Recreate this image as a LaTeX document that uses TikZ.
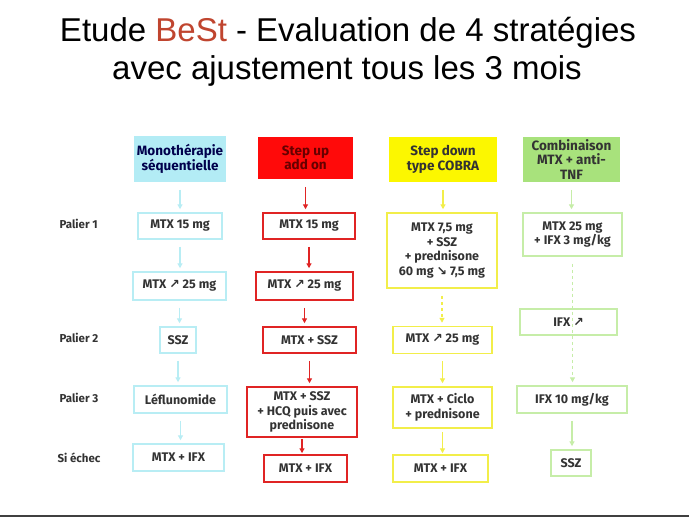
\documentclass[tikz,border=0pt]{standalone}
\usepackage{fontspec}
\setmainfont{Liberation Sans}
\newfontfamily\boxfont{Fira Sans}
\newfontfamily\arrfont{DejaVu Sans}
\usetikzlibrary{arrows.meta}
\usetikzlibrary{positioning}
\newcommand\upar{{\arrfont ↗}}
\newcommand\downar{{\arrfont ↘}}
\definecolor{cyanline}{HTML}{B8EDF4}
\definecolor{cyanfill}{HTML}{B3ECF5}
\definecolor{redline}{HTML}{E02424}
\definecolor{redfill}{HTML}{FF0A0A}
\definecolor{yelline}{HTML}{F2EE4A}
\definecolor{yelfill}{HTML}{FCF700}
\definecolor{grnline}{HTML}{C6EDA8}
\definecolor{grnfill}{HTML}{A8E27C}
\definecolor{bestred}{HTML}{C0452F}

\begin{document}
\begin{tikzpicture}[x=1pt,y=-1pt,
  box/.style={draw,line width=1.5pt,align=center,inner sep=1pt,text=black!80,font=\boxfont\bfseries\fontsize{12.5}{14.5}\selectfont},
  head/.style={box,draw=none,font=\boxfont\bfseries\fontsize{13.5}{14.5}\selectfont},
  cbox/.style={box,draw=cyanline},
  rbox/.style={box,draw=redline},
  ybox/.style={box,draw=yelline},
  gbox/.style={box,draw=grnline},
  lab/.style={anchor=west,text=black!80,font=\boxfont\bfseries\fontsize{11.5}{14}\selectfont},
  arr/.style={-{Triangle[length=5pt,width=5pt]},line width=1.2pt,shorten <=7pt,shorten >=3pt},
  carr/.style={arr,cyanline},
  rarr/.style={arr,redline},
  yarr/.style={arr,yelline},
  garr/.style={arr,grnline},
  ttl/.style={anchor=base,font=\fontsize{33}{38}\selectfont}]
\fill[white] (0,0) rectangle (689,517);
\useasboundingbox (0,0) rectangle (689,517);

\node[ttl] (title1) at (348,41) {Etude \textcolor{bestred}{BeSt} - Evaluation de 4 stratégies};
\node[ttl] (title2) at (347,79) {avec ajustement tous les 3 mois};

\node[head,fill=cyanfill,text=black!70!blue,minimum width=92,minimum height=46] (ch) at (180,159) {Monothérapie\\séquentielle};
\node[head,fill=redfill,text=black!60!red,minimum width=95,minimum height=42] (rh) at (305.5,158) {Step up\\add on};
\node[head,fill=yelfill,minimum width=108,minimum height=45] (yh) at (443,159.5) {Step down\\type COBRA};
\node[head,fill=grnfill,minimum width=97,minimum height=45] (gh) at (571.5,159.5) {Combinaison\\MTX + anti-\\TNF};

\node[lab] (p1) at (56,224) {Palier 1};
\node[lab] (p2) at (56,338) {Palier 2};
\node[lab] (p3) at (56,398) {Palier 3};
\node[lab] (p4) at (54,458) {Si échec};

\node[cbox,minimum width=84,minimum height=26] (c1) at (180,226) {MTX 15 mg};
\node[cbox,minimum width=93,minimum height=28] (c2) at (179.5,286) {MTX \upar{} 25 mg};
\node[cbox,minimum width=36,minimum height=26] (c3) at (178,340) {SSZ};
\node[cbox,minimum width=93,minimum height=27] (c4) at (180.5,399.5) {Léflunomide};
\node[cbox,minimum width=91,minimum height=27] (c5) at (178.5,457.5) {MTX + IFX};

\node[rbox,minimum width=92,minimum height=26] (r1) at (309,226) {MTX 15 mg};
\node[rbox,minimum width=97,minimum height=28] (r2) at (304.5,286) {MTX \upar{} 25 mg};
\node[rbox,minimum width=93,minimum height=26] (r3) at (309.5,340) {MTX + SSZ};
\node[rbox,minimum width=110,minimum height=50] (r4) at (302,412) {MTX + SSZ\\+ HCQ puis avec\\prednisone};
\node[rbox,minimum width=83,minimum height=27] (r5) at (305.5,468.5) {MTX + IFX};

\node[ybox,minimum width=110,minimum height=75] (y1) at (442,250.5) {MTX 7,5 mg\\+ SSZ\\+ prednisone\\60 mg \downar{} 7,5 mg};
\node[ybox,minimum width=99,minimum height=27] (y2) at (442.5,340) {MTX \upar{} 25 mg};
\node[ybox,minimum width=99,minimum height=41] (y3) at (442.5,407.5) {MTX + Ciclo\\+ prednisone};
\node[ybox,minimum width=95,minimum height=27] (y4) at (440.5,468.5) {MTX + IFX};

\node[gbox,minimum width=99,minimum height=43] (g1) at (572.5,234.5) {MTX 25 mg\\+ IFX 3 mg/kg};
\node[gbox,minimum width=97,minimum height=26] (g2) at (568.5,322) {IFX \upar};
\node[gbox,minimum width=110,minimum height=27] (g3) at (572,399.5) {IFX 10 mg/kg};
\node[gbox,minimum width=40,minimum height=26] (g4) at (571,463) {SSZ};

\draw[carr] (ch) -- (ch |- c1.north);
\draw[carr] (c1) -- (c1 |- c2.north);
\draw[carr] (c2) -- (c2 |- c3.north);
\draw[carr] (c3) -- (c3 |- c4.north);
\draw[carr] (c4) -- (c4 |- c5.north);

\draw[rarr] (rh) -- (rh |- r1.north);
\draw[rarr] (r1) -- (r1 |- r2.north);
\draw[rarr] (r2) -- (r2 |- r3.north);
\draw[rarr] (r3) -- (r3 |- r4.north);
\draw[rarr,shorten <=1pt,shorten >=1pt] (r4) -- (r4 |- r5.north);

\draw[yarr] (yh) -- (yh |- y1.north);
\draw[yarr,dashed] (y1) -- (y1 |- y2.north);
\draw[yarr] (y2) -- (y2 |- y3.north);
\draw[yarr,shorten <=3pt,shorten >=1pt] (y3) -- (y3 |- y4.north);

\draw[garr] (gh) -- (gh |- g1.north);
\draw[garr,dashed] (g1) -- (g1 |- g3.north);
\draw[garr] (g3) -- (g3 |- g4.north);

\draw[black!75,line width=2pt] (0,516) -- (689,516);
\end{tikzpicture}
\end{document}
